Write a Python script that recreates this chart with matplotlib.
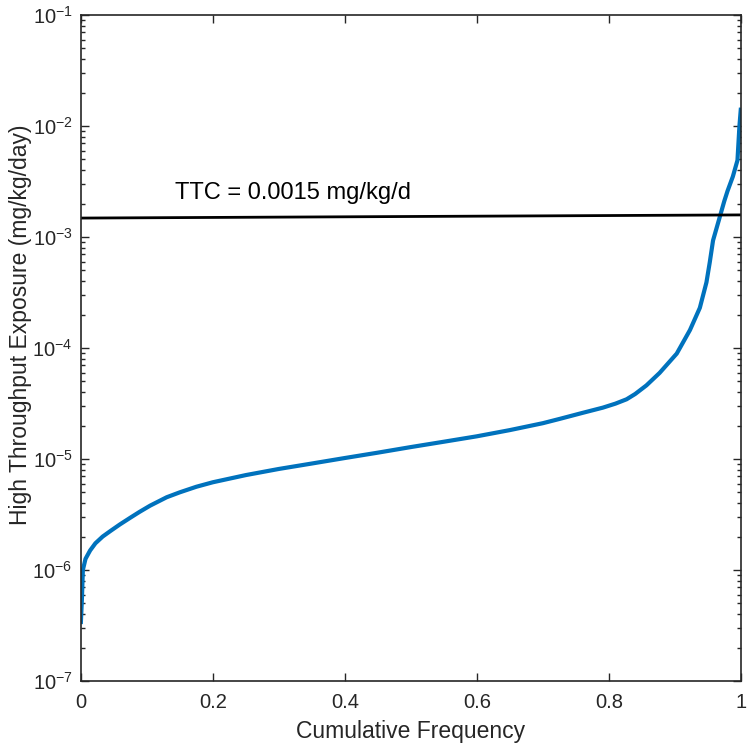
import matplotlib
matplotlib.use("Agg")
import matplotlib.pyplot as plt
from matplotlib.ticker import LogLocator, NullFormatter

plt.rcParams['font.family'] = ['Liberation Sans', 'DejaVu Sans']
plt.rcParams['mathtext.fontset'] = 'custom'
plt.rcParams['mathtext.rm'] = 'Liberation Sans'
plt.rcParams['mathtext.it'] = 'Liberation Sans:italic'

# cumulative frequency vs exposure
cum_freq = [0.0, 0.0015, 0.003, 0.007, 0.014, 0.022, 0.033, 0.045, 0.059,
            0.075, 0.089, 0.105, 0.13, 0.15, 0.175, 0.2, 0.25, 0.3, 0.35,
            0.4, 0.45, 0.5, 0.55, 0.6, 0.65, 0.7, 0.726, 0.76, 0.791, 0.81,
            0.827, 0.84, 0.857, 0.877, 0.903, 0.923, 0.938, 0.948, 0.953,
            0.958, 0.968, 0.975, 0.980, 0.988, 0.995, 0.998, 1.0]
exposure = [3.4e-7, 5.4e-7, 1.0e-6, 1.26e-6, 1.5e-6, 1.74e-6, 2.0e-6, 2.25e-6,
            2.57e-6, 2.96e-6, 3.34e-6, 3.8e-6, 4.52e-6, 5.01e-6, 5.62e-6,
            6.17e-6, 7.16e-6, 8.13e-6, 9.1e-6, 1.02e-5, 1.14e-5, 1.28e-5,
            1.43e-5, 1.6e-5, 1.82e-5, 2.1e-5, 2.3e-5, 2.6e-5, 2.9e-5, 3.15e-5,
            3.45e-5, 3.85e-5, 4.6e-5, 5.96e-5, 8.9e-5, 1.45e-4, 2.3e-4, 3.9e-4,
            5.9e-4, 9.3e-4, 1.5e-3, 2.1e-3, 2.6e-3, 3.5e-3, 4.9e-3, 1.0e-2,
            1.4e-2]

ttc_x = [0.0, 1.0]
ttc_y = [0.00148, 0.00158]
ttc_label = "TTC = 0.0015 mg/kg/d"

x_ticks = [0, 0.2, 0.4, 0.6, 0.8, 1]
x_ticklabels = ['0', '0.2', '0.4', '0.6', '0.8', '1']
y_ticks = [1e-7, 1e-6, 1e-5, 1e-4, 1e-3, 1e-2, 1e-1]

fig = plt.figure(figsize=(7.49, 7.48), dpi=100)
ax = fig.add_axes([0.108, 0.0896, 0.881, 0.8904])

ax.plot(cum_freq, exposure, color='#0072BD', lw=3, solid_joinstyle='round')
ax.plot(ttc_x, ttc_y, color='black', lw=2)
ax.text(0.142, 2.0e-3, ttc_label, fontsize=17, va='bottom', ha='left')

ax.set_yscale('log')
ax.set_xlim(0, 1)
ax.set_ylim(1e-7, 1e-1)
ax.set_xticks(x_ticks)
ax.set_xticklabels(x_ticklabels)
ax.set_yticks(y_ticks)
ax.yaxis.set_minor_locator(LogLocator(base=10, subs=range(2, 10), numticks=20))
ax.yaxis.set_minor_formatter(NullFormatter())

ax.tick_params(which='both', direction='in', top=True, right=True, labelsize=14.5, colors='#262626')
ax.tick_params(axis='x', pad=9)
ax.tick_params(axis='y', pad=6)
ax.tick_params(which='major', length=6, width=1)
ax.tick_params(which='minor', length=3, width=1)
for s in ax.spines.values():
    s.set_linewidth(1.2)
    s.set_color('#262626')

ax.set_xlabel('Cumulative Frequency', fontsize=16.5, color='#262626', va='top')
ax.xaxis.set_label_coords(0.5, -0.058)
ax.set_ylabel('High Throughput Exposure (mg/kg/day)', fontsize=16.5, color='#262626')
ax.yaxis.set_label_coords(-0.074, 0.535)

fig.savefig('out.png', dpi=100)
